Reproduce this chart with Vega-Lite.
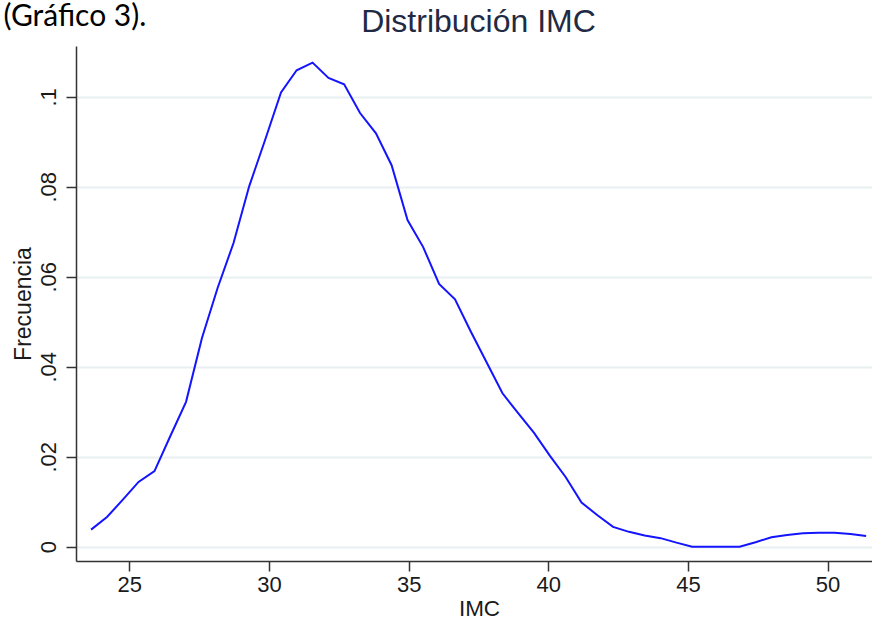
{
  "$schema": "https://vega.github.io/schema/vega-lite/v6.json",
  "width": 796,
  "height": 515,
  "autosize": {"type": "none"},
  "padding": {"left": 76, "top": 46, "right": 0, "bottom": 58},
  "background": "white",
  "title": {
    "text": "Distribución IMC",
    "anchor": "middle",
    "frame": "group",
    "font": "Liberation Sans",
    "fontSize": 32,
    "fontWeight": "normal",
    "color": "#1f2a44",
    "baseline": "alphabetic",
    "offset": -63,
    "dx": 4.5
  },
  "config": {"view": {"stroke": null}},
  "resolve": {"axis": {"x": "independent"}},
  "layer": [
    {
      "data": {
        "values": [
          {"IMC": 23.63, "freq": 0.0038},
          {"IMC": 24.20, "freq": 0.0066},
          {"IMC": 24.76, "freq": 0.0104},
          {"IMC": 25.33, "freq": 0.0144},
          {"IMC": 25.90, "freq": 0.0168},
          {"IMC": 26.46, "freq": 0.0245},
          {"IMC": 27.03, "freq": 0.0322},
          {"IMC": 27.60, "freq": 0.0464},
          {"IMC": 28.16, "freq": 0.0575},
          {"IMC": 28.73, "freq": 0.0675},
          {"IMC": 29.29, "freq": 0.0801},
          {"IMC": 29.86, "freq": 0.0904},
          {"IMC": 30.43, "freq": 0.1010},
          {"IMC": 30.99, "freq": 0.1059},
          {"IMC": 31.56, "freq": 0.1076},
          {"IMC": 32.13, "freq": 0.1042},
          {"IMC": 32.69, "freq": 0.1028},
          {"IMC": 33.26, "freq": 0.0964},
          {"IMC": 33.83, "freq": 0.0919},
          {"IMC": 34.39, "freq": 0.0848},
          {"IMC": 34.96, "freq": 0.0726},
          {"IMC": 35.52, "freq": 0.0666},
          {"IMC": 36.09, "freq": 0.0584},
          {"IMC": 36.66, "freq": 0.0550},
          {"IMC": 37.22, "freq": 0.0479},
          {"IMC": 37.79, "freq": 0.0410},
          {"IMC": 38.36, "freq": 0.0341},
          {"IMC": 38.92, "freq": 0.0297},
          {"IMC": 39.49, "freq": 0.0253},
          {"IMC": 40.06, "freq": 0.0202},
          {"IMC": 40.62, "freq": 0.0155},
          {"IMC": 41.19, "freq": 0.0098},
          {"IMC": 41.76, "freq": 0.0070},
          {"IMC": 42.32, "freq": 0.0044},
          {"IMC": 42.89, "freq": 0.0033},
          {"IMC": 43.45, "freq": 0.0025},
          {"IMC": 44.02, "freq": 0.0019},
          {"IMC": 44.59, "freq": 0.0009},
          {"IMC": 45.15, "freq": 0.0},
          {"IMC": 45.72, "freq": 0.0},
          {"IMC": 46.29, "freq": 0.0},
          {"IMC": 46.85, "freq": 0.0},
          {"IMC": 47.42, "freq": 0.0010},
          {"IMC": 47.99, "freq": 0.0021},
          {"IMC": 48.55, "freq": 0.0026},
          {"IMC": 49.12, "freq": 0.0030},
          {"IMC": 49.68, "freq": 0.0031},
          {"IMC": 50.25, "freq": 0.0031},
          {"IMC": 50.82, "freq": 0.0028},
          {"IMC": 51.38, "freq": 0.0024}
        ]
      },
      "mark": {"type": "line", "color": "#1414ff", "strokeWidth": 2},
      "encoding": {
        "x": {
          "field": "IMC",
          "type": "quantitative",
          "scale": {"domain": [23.09, 51.59], "nice": false, "zero": false},
          "axis": {
            "orient": "bottom",
            "values": [25, 30, 35, 40, 45, 50],
            "grid": false,
            "domainColor": "#333333",
            "domainWidth": 1.5,
            "tickColor": "#333333",
            "tickWidth": 1.5,
            "tickSize": 10,
            "labelFont": "Liberation Sans",
            "labelFontSize": 22,
            "labelColor": "#1a1a1a",
            "labelBaseline": "alphabetic",
            "labelPadding": 20.5,
            "title": "IMC",
            "titleFont": "Liberation Sans",
            "titleFontSize": 22.5,
            "titleFontWeight": "normal",
            "titleColor": "#1a1a1a",
            "titleAlign": "center",
            "titleBaseline": "alphabetic",
            "titleX": 403,
            "titleY": 54.7
          }
        },
        "y": {
          "field": "freq",
          "type": "quantitative",
          "scale": {"domain": [-0.00318, 0.1113], "nice": false, "zero": false},
          "axis": {
            "values": [0, 0.02, 0.04, 0.06, 0.08, 0.1],
            "labelExpr": "replace(format(datum.value, '~g'), '0.', '.')",
            "grid": true,
            "gridColor": "#e8f0f2",
            "gridWidth": 2,
            "domainColor": "#333333",
            "domainWidth": 1.5,
            "tickColor": "#333333",
            "tickWidth": 1.5,
            "tickSize": 10,
            "labelFont": "Liberation Sans",
            "labelFontSize": 22,
            "labelColor": "#1a1a1a",
            "labelAngle": 270,
            "labelAlign": "center",
            "labelBaseline": "alphabetic",
            "labelPadding": 11,
            "title": "Frecuencia",
            "titleFont": "Liberation Sans",
            "titleFontSize": 23,
            "titleFontWeight": "normal",
            "titleColor": "#1a1a1a",
            "titleAngle": 270,
            "titleAlign": "center",
            "titleBaseline": "alphabetic",
            "titleX": -46,
            "titleY": 257.5
          }
        }
      }
    },
    {
      "data": {"values": []},
      "mark": {"type": "rule"},
      "encoding": {
        "x": {
          "field": "IMC",
          "type": "quantitative",
          "scale": {"domain": [23.09, 51.59], "nice": false, "zero": false},
          "axis": {
            "orient": "top",
            "labels": false,
            "ticks": false,
            "domain": false,
            "grid": false,
            "title": "(Gráfico 3).",
            "titleFont": "Lato",
            "titleFontSize": 30,
            "titleFontWeight": "normal",
            "titleColor": "#000000",
            "titleAlign": "left",
            "titleBaseline": "alphabetic",
            "titleX": -73,
            "titleY": -21
          }
        }
      }
    }
  ]
}
